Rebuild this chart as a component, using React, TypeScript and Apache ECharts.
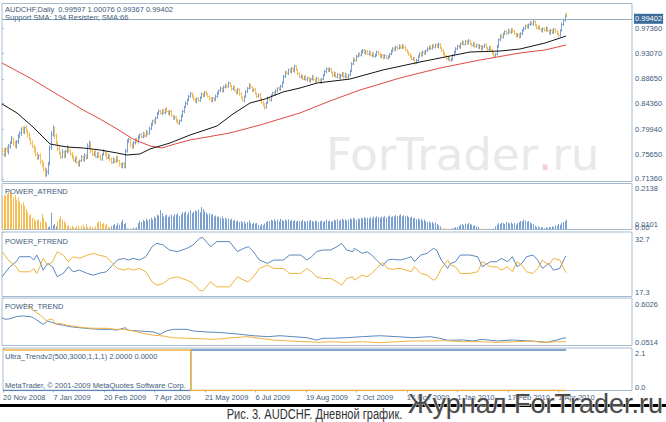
import React from "react";
import * as echarts from "echarts";

// AUDCHF daily, 20 Nov 2008 .. early Apr 2010, one value per bar (358 bars)
// closes in pips (x 1e-4); open of each bar = previous close
const firstOpenPips = 7640;
const closePips = [
  7610, 7560, 7650, 7620, 7700, 7760, 7830, 7760, 7700, 7780,
  7860, 7930, 7990, 7950, 8020, 7960, 7900, 7820, 7760, 7700,
  7640, 7560, 7500, 7540, 7440, 7380, 7300, 7220, 7260, 7400,
  7680, 7900, 8010, 7880, 7760, 7660, 7580, 7520, 7600, 7540,
  7610, 7680, 7620, 7560, 7520, 7460, 7500, 7420, 7380, 7450,
  7520, 7470, 7540, 7500, 7700, 7760, 7620, 7560, 7600, 7520,
  7580, 7520, 7480, 7560, 7620, 7570, 7500, 7540, 7470, 7420,
  7480, 7440, 7500, 7450, 7390, 7350, 7400, 7340, 7620, 7780,
  7820, 7720, 7680, 7760, 7820, 7780, 7850, 7900, 7860, 7920,
  7880, 7950, 7920, 8000, 8080, 8140, 8110, 8190, 8260, 8300,
  8270, 8320, 8280, 8340, 8300, 8260, 8300, 8230, 8180, 8200,
  8140, 8100, 8140, 8220, 8300, 8380, 8440, 8500, 8560, 8610,
  8560, 8510, 8470, 8520, 8490, 8540, 8600, 8570, 8630, 8600,
  8560, 8520, 8480, 8530, 8500, 8560, 8620, 8660, 8700, 8650,
  8720, 8760, 8730, 8790, 8740, 8690, 8720, 8660, 8620, 8680,
  8600, 8540, 8490, 8560, 8640, 8700, 8760, 8720, 8660, 8680,
  8610, 8560, 8590, 8520, 8460, 8420, 8370, 8450, 8530, 8500,
  8580, 8620, 8590, 8660, 8700, 8680, 8740, 8800, 8900, 8980,
  8960, 9020, 8980, 9040, 9000, 9080, 9020, 8950, 8900, 8920,
  8860, 8900, 8850, 8880, 8820, 8860, 8900, 8850, 8820, 8870,
  8840, 8800, 8860, 8930, 8990, 9040, 9000, 9030, 8970, 8920,
  8960, 8900, 8940, 8880, 8920, 8960, 8900, 8940, 8890, 8930,
  9000, 9120, 9210, 9180, 9250, 9300, 9270, 9330, 9360, 9310,
  9340, 9290, 9320, 9270, 9300, 9250, 9280, 9330, 9290, 9240,
  9270, 9230, 9260, 9220, 9250, 9290, 9340, 9390, 9360, 9410,
  9390, 9430, 9400, 9440, 9410, 9360, 9320, 9280, 9250, 9200,
  9220, 9140, 9180, 9250, 9300, 9270, 9330, 9300, 9350, 9380,
  9420, 9390, 9440, 9410, 9450, 9420, 9460, 9400, 9350, 9300,
  9260, 9210, 9240, 9180, 9200, 9270, 9330, 9380, 9430, 9410,
  9470, 9500, 9460, 9510, 9480, 9520, 9470, 9440, 9470, 9420,
  9450, 9400, 9430, 9380, 9420, 9450, 9400, 9370, 9410, 9360,
  9310, 9260, 9290, 9420, 9540, 9610, 9580, 9640, 9680, 9650,
  9700, 9670, 9720, 9680, 9640, 9600, 9630, 9590, 9640, 9700,
  9740, 9780, 9750, 9800, 9840, 9810, 9850, 9790, 9740, 9760,
  9720, 9690, 9730, 9700, 9740, 9690, 9650, 9700, 9660, 9720,
  9680, 9640, 9610, 9700, 9800, 9880, 9959.7, 9940.2,
];
// wick above / below the body, in tens of pips
const hiWick = [
  4, 6, 3, 5, 4, 3, 5, 2, 4, 3, 5, 3, 4, 6, 2, 4, 3, 5, 3, 4,
  3, 5, 4, 2, 4, 3, 5, 4, 6, 3, 4, 6, 5, 3, 4, 2, 4, 3, 5, 3,
  3, 4, 2, 3, 4, 3, 2, 4, 3, 2, 3, 2, 4, 3, 5, 4, 2, 3, 2, 4,
  2, 3, 4, 2, 3, 2, 4, 3, 2, 3, 3, 2, 3, 4, 2, 3, 2, 3, 4, 4,
  3, 2, 4, 3, 2, 3, 4, 2, 3, 3, 2, 3, 2, 4, 3, 2, 3, 2, 3, 4,
  3, 2, 3, 2, 4, 3, 2, 3, 2, 3, 2, 3, 2, 3, 3, 2, 4, 2, 3, 3,
  2, 3, 2, 2, 3, 2, 3, 2, 2, 3, 2, 2, 3, 2, 2, 3, 2, 2, 3, 2,
  3, 2, 2, 3, 2, 2, 3, 2, 2, 3, 2, 3, 2, 2, 3, 2, 3, 2, 2, 2,
  3, 2, 2, 3, 2, 2, 3, 2, 3, 2, 2, 2, 3, 2, 2, 3, 2, 2, 3, 2,
  3, 2, 2, 3, 2, 3, 2, 2, 3, 2, 2, 2, 3, 2, 2, 2, 3, 2, 2, 3,
  2, 3, 2, 2, 3, 2, 2, 3, 2, 2, 3, 2, 2, 2, 3, 2, 2, 3, 2, 2,
  2, 3, 2, 2, 3, 2, 2, 3, 2, 2, 2, 2, 3, 2, 2, 3, 2, 2, 2, 3,
  2, 2, 3, 2, 2, 2, 3, 2, 2, 3, 2, 3, 2, 2, 2, 3, 2, 2, 3, 2,
  2, 2, 3, 2, 2, 3, 2, 2, 2, 3, 2, 2, 2, 3, 2, 2, 3, 2, 2, 2,
  3, 2, 2, 2, 3, 2, 2, 3, 2, 2, 2, 3, 2, 2, 2, 3, 2, 2, 3, 2,
  2, 2, 3, 2, 2, 2, 3, 2, 2, 3, 2, 2, 2, 3, 2, 2, 3, 2, 2, 2,
  3, 2, 2, 2, 3, 2, 2, 2, 3, 2, 2, 2, 3, 2, 2, 2, 3, 2, 2, 2,
  3, 2, 2, 2, 3, 2, 2, 3, 2, 2, 2, 3, 2, 2, 3, 2, 2, 5,
];
const loWick = [
  3, 5, 4, 3, 6, 4, 2, 5, 3, 4, 4, 2, 5, 3, 4, 3, 5, 2, 4, 3,
  5, 3, 4, 3, 5, 4, 3, 6, 4, 5, 3, 4, 3, 5, 2, 4, 3, 4, 3, 5,
  4, 3, 3, 2, 4, 3, 4, 2, 3, 3, 2, 4, 3, 3, 2, 3, 4, 3, 3, 2,
  3, 2, 3, 3, 2, 4, 3, 2, 3, 2, 2, 3, 2, 3, 4, 3, 3, 2, 2, 3,
  2, 4, 3, 2, 3, 2, 3, 3, 2, 2, 3, 2, 3, 2, 2, 3, 2, 3, 2, 2,
  2, 3, 2, 3, 2, 2, 3, 2, 3, 2, 3, 2, 3, 2, 2, 3, 2, 3, 2, 2,
  3, 2, 2, 3, 2, 2, 2, 3, 2, 2, 2, 3, 2, 2, 3, 2, 2, 3, 2, 2,
  2, 2, 3, 2, 2, 3, 2, 2, 3, 2, 3, 2, 2, 3, 2, 2, 2, 3, 2, 2,
  2, 3, 2, 2, 3, 3, 4, 2, 2, 2, 3, 2, 2, 2, 3, 2, 2, 3, 2, 2,
  2, 3, 2, 2, 2, 3, 2, 2, 2, 3, 2, 2, 2, 3, 2, 2, 2, 3, 2, 2,
  3, 2, 2, 2, 2, 3, 2, 2, 2, 3, 2, 2, 3, 2, 2, 2, 3, 2, 2, 2,
  2, 2, 2, 3, 2, 2, 2, 2, 3, 2, 3, 2, 2, 2, 3, 2, 2, 3, 2, 2,
  2, 3, 2, 2, 2, 3, 2, 2, 2, 2, 3, 2, 2, 2, 3, 2, 2, 2, 3, 2,
  2, 4, 2, 2, 2, 3, 2, 2, 2, 2, 2, 3, 2, 2, 2, 2, 3, 2, 2, 3,
  2, 2, 3, 2, 2, 2, 2, 3, 2, 2, 3, 2, 2, 2, 3, 2, 2, 2, 2, 3,
  2, 2, 2, 3, 2, 2, 2, 3, 2, 2, 3, 2, 2, 2, 2, 3, 2, 2, 2, 3,
  2, 2, 3, 2, 2, 2, 2, 3, 2, 2, 2, 3, 2, 2, 2, 2, 3, 2, 2, 2,
  2, 2, 3, 2, 2, 2, 2, 3, 2, 2, 3, 2, 2, 2, 2, 2, 3, 0,
];
const lastQuote = { open: 0.99597, high: 1.00076, low: 0.99367, close: 0.99402 };

// moving averages, [bar, price] vertices
const sma66 = [
  [0, 0.843], [9.5, 0.8275], [19.6, 0.8033], [30.4, 0.774], [41.1, 0.7688],
  [51.3, 0.7671], [62, 0.7637], [72.8, 0.7585], [79.1, 0.755], [87.3, 0.7568],
  [93.7, 0.7654], [106.3, 0.7757], [119, 0.7895], [136.1, 0.8051], [146.2, 0.8258],
  [157, 0.8447], [166.5, 0.8516], [177.8, 0.8637], [188.6, 0.8706], [199.4, 0.8792],
  [220.3, 0.8861], [241.1, 0.9017], [264.6, 0.9155], [280.4, 0.9241], [296.2, 0.9327],
  [315.2, 0.9344], [327.8, 0.9379], [343.7, 0.9482], [357, 0.9603],
];
const sma194 = [
  [0, 0.9137], [17.7, 0.8879], [33.5, 0.862], [51.3, 0.8327], [62, 0.8171],
  [72.8, 0.7999], [82.9, 0.7826], [93.7, 0.7706], [101.3, 0.7671], [109.5, 0.774],
  [119, 0.7809], [144.3, 0.793], [163.3, 0.8068], [188.6, 0.8275], [207.6, 0.8482],
  [226.6, 0.8672], [251.9, 0.8879], [277.2, 0.9051], [302.5, 0.9189], [327.8, 0.931],
  [343.7, 0.9362], [357, 0.9448],
];
const priceTicks = [0.7136, 0.7565, 0.7994, 0.8436, 0.8865, 0.9307, 0.9736];

// POWER_ATREND histogram, thousandths; negative = bearish (orange) bar
const atrendMilli = [
  -150, -160, -158, -165, -175, -184, -170, -150, -160, -140, -150,
  -130, -120, -125, -110, -95, -80, -65, -72, -55, -50, -40, -45,
  -45, -35, -72, -55, -40, -30, 10, 15, 78, 20, 25, 15,
  -40, -50, -62, -45, -38, -30, -15, -20, -10, -18, -12, -8,
  -15, -20, -5, -18, -22, -10, -25, -12, -8, -15, -10, -5, -15, -30,
  -40, -35, -25, -30, -20, -28, -15, -10,
  15, 20, 25, 18, 30, 22, 35, 45, 25, 30, 5, -5, 3, -4, 8, 5, 10,
  30, 40, 35, 45, 38, 50, 42, 48, 55, 45, 60, 55, 70, 65, 90, 75, 60, 65, 70, 58,
  65, 70, 60, 72, 68, 75, 62, 70, 80, 78, 85, 70, 80, 90, 75, 82, 88,
  85, 92, 80, 105, 95, 85, 78, 70, 75, 68, 72, 60, 65, 58, 62, 55, 60, 50,
  55, 48, 52, 45, 50, 40, 45, 38, 42, 35, 40, 32, 38, 28, 35, 42, 30, 25, 32, 28,
  30, 22, 18, 25, 20, 28, 35, 40, 38, 45, 42, 48, 40, 45, 38, 50, 44, 40, 46, 42,
  48, 40, 45, 38, 44, 36, 42, 40, 38, 45, 40, 35, 42, 38, 45, 40, 36, 42, 38, 34,
  38, 42, 35, 40, 45, 38, 42, 36, 40, 45, 42, 48, 40, 45, 50, 44, 48, 42, 46, 52,
  48, 55, 50, 45, 52, 48, 55, 50, 58, 52, 55, 50, 58, 52, 60, 55, 62, 58, 55, 60,
  58, 62, 55, 60, 65, 58, 62, 60, 68, 62, 65, 70, 62, 66, 60, 64, 58, 55, 60, 52,
  55, 48, 52, 45, 50, 42, 46, 40, 35, 38, 30, 35, 28, 32, 25, 20, 15,
  -5, -3, -6, -4, 0, -2, 3, 5, 8, 10,
  12, 18, 22, 25, 20, 28, 24, 30, 26, 22, 18, 20, 15, 12,
  -3, -5, 0, -4, -2, 0, 3, -2, 0, 5,
  15, 22, 28, 25, 32, 30, 26, 35, 30, 28, 32, 25, 30, 22,
  30, 35, 40, 38, 45, 42, 36, 40, 32, 28, 25,
  18, 12, 15, 8, 12, 10, 6, 10, 8, 12,
  10, 15, 12, 20, 18, 25, 22, 30, 35, 40, 45,
];
const atrendScale = [0, 0.2138];
const atrendLevel = [0.0101]; // MT4 level label drawn over the "0.00" one

// POWER_FTREND, [bar, value] vertices
const ftrendBlue = [
  [0, 22.0], [5, 24.4], [9, 25.6], [11, 26.8], [18, 26.8], [20, 26.0], [22, 27.2], [24, 25.6],
  [26, 23.6], [29, 25.2], [32, 24.4], [35, 22.0], [39, 22.9], [42, 24.4], [45, 23.2], [49, 23.6],
  [54, 22.8], [58, 22.4], [62, 22.9], [66, 23.2], [70, 24.8], [73, 26.0], [77, 26.4], [80, 26.0],
  [83, 26.4], [87, 26.0], [91, 26.8], [95, 29.2], [98, 30.0], [102, 29.6], [106, 28.4], [111, 28.0],
  [114, 28.4], [117, 28.8], [121, 29.6], [125, 31.2], [127, 31.4], [132, 29.2], [136, 30.4], [144, 30.4],
  [149, 28.0], [153, 28.8], [156, 29.2], [159, 28.0], [163, 26.0], [168, 25.2], [172, 26.0], [178, 26.0],
  [182, 27.2], [189, 27.2], [193, 26.0], [196, 26.8], [199, 28.0], [203, 28.4], [208, 28.4], [212, 29.2],
  [215, 30.0], [218, 28.4], [222, 28.0], [223, 28.8], [228, 27.6], [231, 28.0], [234, 27.2], [237, 26.0],
  [241, 24.6], [244, 26.0], [247, 26.2], [252, 26.0], [256, 26.4], [259, 26.8], [261, 25.6], [265, 27.2],
  [269, 27.6], [273, 28.8], [275, 28.4], [278, 26.0], [282, 24.0], [284, 25.2], [287, 25.6], [290, 27.2],
  [296, 27.2], [301, 26.8], [304, 24.4], [309, 25.6], [313, 25.6], [316, 26.4], [320, 25.6], [323, 26.8],
  [326, 24.4], [329, 25.2], [332, 26.8], [336, 27.2], [339, 26.0], [342, 24.0], [346, 25.2], [349, 23.6],
  [353, 24.0], [356, 26.4], [357, 27.0],
];
const ftrendOrange = [
  [0, 28.0], [5, 25.6], [9, 24.4], [11, 23.2], [18, 23.2], [20, 24.0], [22, 22.8], [24, 24.4],
  [26, 26.4], [29, 24.8], [32, 25.6], [35, 28.0], [39, 27.1], [42, 25.6], [45, 26.8], [49, 26.4],
  [54, 27.2], [58, 27.6], [62, 27.1], [66, 26.8], [70, 25.2], [73, 24.0], [77, 23.6], [80, 24.0],
  [83, 23.6], [87, 24.0], [91, 23.2], [95, 20.8], [98, 20.0], [102, 20.4], [106, 21.6], [111, 22.0],
  [114, 21.6], [117, 21.2], [121, 20.4], [125, 18.8], [127, 18.6], [132, 20.8], [136, 19.6], [144, 19.6],
  [149, 22.0], [153, 21.2], [156, 20.8], [159, 22.0], [163, 24.0], [168, 24.8], [172, 24.0], [178, 24.0],
  [182, 22.8], [189, 22.8], [193, 24.0], [196, 23.2], [199, 22.0], [203, 21.6], [208, 21.6], [212, 20.8],
  [215, 20.0], [218, 21.6], [222, 22.0], [223, 21.2], [228, 22.4], [231, 22.0], [234, 22.8], [237, 24.0],
  [241, 25.4], [244, 24.0], [247, 23.8], [252, 24.0], [256, 23.6], [259, 23.2], [261, 24.4], [265, 22.8],
  [269, 22.4], [273, 21.2], [275, 21.6], [278, 24.0], [282, 26.0], [284, 24.8], [287, 24.4], [290, 22.8],
  [296, 22.8], [301, 23.2], [304, 25.6], [309, 24.4], [313, 24.4], [316, 23.6], [320, 24.4], [323, 23.2],
  [326, 25.6], [329, 24.8], [332, 23.2], [336, 22.8], [339, 24.0], [342, 26.0], [346, 24.8], [349, 26.4],
  [353, 26.0], [356, 23.6], [357, 23.0],
];
const ftrendScale = [17.3, 32.7];

// POWER_TREND
const trendBlue = [
  [0, 0.374], [2, 0.355], [5, 0.362], [9, 0.386], [13, 0.394], [18, 0.386], [20, 0.374], [22, 0.347],
  [26, 0.297], [29, 0.336], [32, 0.316], [35, 0.297], [39, 0.286], [43, 0.27], [49, 0.258], [56, 0.246],
  [62, 0.239], [68, 0.239], [73, 0.231], [78, 0.258], [80, 0.228], [87, 0.22], [96, 0.208], [100, 0.181],
  [104, 0.22], [108, 0.239], [117, 0.239], [121, 0.22], [130, 0.208], [138, 0.202], [151, 0.181], [159, 0.165],
  [168, 0.154], [176, 0.165], [184, 0.154], [193, 0.142], [199, 0.115], [203, 0.135], [208, 0.135], [218, 0.142],
  [228, 0.154], [239, 0.165], [250, 0.154], [260, 0.142], [271, 0.154], [277, 0.135], [282, 0.112], [292, 0.115],
  [298, 0.104], [304, 0.123], [313, 0.104], [323, 0.115], [334, 0.104], [341, 0.095], [345, 0.088], [351, 0.115],
  [355, 0.135], [357, 0.142],
];
const trendOrange = [
  [14, 0.54], [16, 0.51], [19, 0.471], [22, 0.432], [25, 0.394], [28, 0.336], [30, 0.355], [32, 0.355],
  [34, 0.297], [37, 0.309], [41, 0.286], [47, 0.27], [54, 0.254], [60, 0.251], [66, 0.251], [72, 0.239],
  [77, 0.239], [83, 0.22], [89, 0.193], [96, 0.17], [102, 0.162], [108, 0.142], [117, 0.135], [125, 0.13],
  [134, 0.123], [146, 0.142], [155, 0.154], [163, 0.135], [172, 0.115], [182, 0.104], [193, 0.095], [201, 0.088],
  [208, 0.095], [218, 0.088], [228, 0.095], [239, 0.084], [250, 0.095], [260, 0.104], [271, 0.104], [282, 0.107],
  [292, 0.095], [303, 0.095], [313, 0.088], [326, 0.095], [334, 0.104], [342, 0.088], [351, 0.095], [357, 0.095],
];
const trendScale = [0.0514, 0.6026];

// Ultra_Trendv2
const ultraBlue = [[0, 0], [119, 0], [119, 2], [357, 2]];
const ultraOrange = [[0, 2], [119, 2], [119, 0], [357, 0]];
const ultraScale = [0, 2.1];

const dateTicks = [0, 32, 64, 96, 128, 160, 192, 224, 256, 288, 320, 352];
const dateLabels = [
  "20 Nov 2008", "7 Jan 2009", "20 Feb 2009", "7 Apr 2009", "21 May 2009", "6 Jul 2009",
  "19 Aug 2009", "2 Oct 2009", "17 Nov 2009", "1 Jan 2010", "17 Feb 2010", "1 Apr 2010",
];

const UP = "#7aa0d2";
const DOWN = "#f4bd55";
const LBLUE = "#5b86bd";
const LORANGE = "#f0b23c";
const BORDER = "#a6bbd0";
const TEXT = "#3d5b7b";
const FONT = "Liberation Sans";

const panes = [
  { top: 3.5, height: 178 },
  { top: 183.5, height: 46 },
  { top: 232, height: 64.5 },
  { top: 298, height: 47.5 },
  { top: 348, height: 42.5 },
];

function renderBar(_p: any, api: any) {
  const i = api.value(0);
  const open = api.value(1);
  const close = api.value(2);
  const pO = api.coord([i, open]);
  const pC = api.coord([i, close]);
  const pL = api.coord([i, api.value(3)]);
  const pH = api.coord([i, api.value(4)]);
  const x = Math.round(pO[0]) + 0.5;
  const style = { stroke: close >= open ? UP : DOWN, lineWidth: 1 };
  return {
    type: "group",
    children: [
      { type: "line", shape: { x1: x, y1: pL[1], x2: x, y2: pH[1] }, style },
      { type: "line", shape: { x1: x - 1, y1: pO[1], x2: x, y2: pO[1] }, style },
      { type: "line", shape: { x1: x, y1: pC[1], x2: x + 1, y2: pC[1] }, style },
    ],
  };
}

function renderHist(_p: any, api: any) {
  const i = api.value(0);
  const top = api.coord([i, api.value(1)]);
  const base = api.coord([i, 0]);
  return {
    type: "rect",
    shape: { x: Math.round(top[0]), y: top[1], width: 1, height: base[1] - top[1] },
    style: { fill: api.value(2) < 0 ? DOWN : UP },
  };
}

// MT4 draws a sub-window's max label just under its top edge and the min just above its bottom
function subAxis(
  k: number,
  range: number[],
  labels: number[],
  fmt: (v: number) => string,
  padTop: number,
  padBot: number,
  showTicks = true
) {
  const max = range[range.length - 1];
  const tok = { fontSize: 7.5, fontFamily: FONT, color: TEXT };
  return {
    type: "value",
    gridIndex: k,
    position: "right",
    min: range[0],
    max,
    splitLine: { show: false },
    axisLine: { show: false },
    axisTick: { show: showTicks, customValues: labels, length: 2, lineStyle: { color: BORDER } },
    axisLabel: {
      customValues: labels,
      showMinLabel: true,
      showMaxLabel: true,
      margin: 3,
      formatter: (v: number) => (v >= max ? `{t|${fmt(v)}}` : `{b|${fmt(v)}}`),
      rich: {
        t: { ...tok, padding: [padTop, 0, 0, 0] },
        b: { ...tok, padding: [0, 0, padBot, 0] },
      },
    },
  };
}

function lineSeries(k: number, data: number[][], color: string, width = 1) {
  return {
    type: "line",
    xAxisIndex: k,
    yAxisIndex: k,
    data,
    symbol: "none",
    showSymbol: false,
    silent: true,
    lineStyle: { color, width },
  };
}

function label(x: number, y: number, text: string) {
  return {
    type: "text",
    x,
    y,
    z: 20,
    style: { text, fill: TEXT, font: `7.5px "${FONT}"`, verticalAlign: "middle" },
  };
}

function buildOption(): any {
  const bars = closePips.map((c, i) => {
    const o = i === 0 ? firstOpenPips : closePips[i - 1];
    const hi = Math.max(o, c) + hiWick[i] * 10;
    const lo = Math.min(o, c) - loWick[i] * 10;
    return [i, o / 1e4, c / 1e4, lo / 1e4, hi / 1e4];
  });
  const hist = atrendMilli.map((v, i) => [i, Math.abs(v) / 1000, v]);
  const fmt4 = (v: number) => (v === 0 ? "0.00" : v.toFixed(4));

  return {
    animation: false,
    backgroundColor: "#ffffff",
    textStyle: { fontFamily: FONT },
    grid: panes.map((p) => ({
      left: 2,
      right: 34,
      top: p.top,
      height: p.height,
      show: true,
      borderColor: BORDER,
      borderWidth: 1,
      backgroundColor: "transparent",
    })),
    xAxis: panes.map((_, k) => ({
      type: "value",
      gridIndex: k,
      min: 0,
      max: 398.7,
      show: k === panes.length - 1,
      splitLine: { show: false },
      axisLine: { show: false },
      axisTick: { show: true, customValues: dateTicks, length: 2, lineStyle: { color: BORDER } },
      axisLabel: {
        customValues: dateTicks,
        formatter: (v: number) => dateLabels[dateTicks.indexOf(v)] ?? "",
        align: "left",
        margin: 3,
        fontSize: 7.5,
        fontFamily: FONT,
        color: TEXT,
      },
    })),
    yAxis: [
      {
        type: "value",
        gridIndex: 0,
        position: "right",
        min: 0.70928,
        max: 1.01639,
        splitLine: { show: false },
        axisLine: { show: false },
        axisTick: { show: true, customValues: priceTicks, length: 2, lineStyle: { color: BORDER } },
        axisLabel: {
          customValues: priceTicks,
          formatter: (v: number) => v.toFixed(5),
          margin: 3,
          fontSize: 7.5,
          fontFamily: FONT,
          color: TEXT,
        },
      },
      subAxis(1, atrendScale, atrendScale, fmt4, 10, 5),
      subAxis(2, ftrendScale, ftrendScale, (v) => v.toFixed(1), 14, 9),
      subAxis(3, trendScale, trendScale, (v) => v.toFixed(4), 13, 7),
      subAxis(4, ultraScale, ultraScale, (v) => v.toFixed(1), 11, 7),
      subAxis(1, atrendScale, atrendLevel, fmt4, 10, 5, false),
    ],
    series: [
      {
        type: "custom",
        xAxisIndex: 0,
        yAxisIndex: 0,
        data: bars,
        renderItem: renderBar,
        clip: true,
        silent: true,
        z: 3,
      },
      { ...lineSeries(0, sma194, "#e04a45", 1), z: 4 },
      {
        ...lineSeries(0, sma66, "#151515", 1),
        z: 5,
        markLine: {
          silent: true,
          symbol: ["none", "none"],
          data: [{ yAxis: lastQuote.close }],
          lineStyle: { color: "#94abc3", width: 1, type: "solid" },
          label: {
            position: "end",
            distance: 2,
            formatter: () => lastQuote.close.toFixed(5),
            backgroundColor: "#3c6a99",
            color: "#ffffff",
            fontSize: 7.5,
            fontFamily: FONT,
            padding: [1.5, 1, 0.5, 1],
          },
        },
      },
      {
        type: "custom",
        xAxisIndex: 1,
        yAxisIndex: 1,
        data: hist,
        renderItem: renderHist,
        clip: true,
        silent: true,
      },
      lineSeries(2, ftrendBlue, LBLUE),
      lineSeries(2, ftrendOrange, LORANGE),
      lineSeries(3, trendBlue, LBLUE),
      lineSeries(3, trendOrange, LORANGE),
      lineSeries(4, ultraBlue, LBLUE, 1.4),
      lineSeries(4, ultraOrange, LORANGE, 1.4),
    ],
    graphic: [
      {
        type: "text",
        x: 326,
        y: 154,
        z: 0,
        style: {
          text: "{a|ForTrader}{b|.}{a|ru}",
          verticalAlign: "middle",
          rich: {
            a: { fill: "#e9e9e9", fontSize: 45, fontFamily: "DejaVu Sans" },
            b: { fill: "#f5d0d0", fontSize: 45, fontFamily: "DejaVu Sans" },
          },
        },
      },
      label(5, 9, `AUDCHF,Daily  ${lastQuote.open} ${lastQuote.high} ${lastQuote.low} ${lastQuote.close}`),
      label(5, 17, "Support SMA: 194 Resisten; SMA:66"),
      label(5, 191, "POWER_ATREND"),
      label(5, 241.5, "POWER_FTREND"),
      label(5, 306, "POWER_TREND"),
      label(5, 356, "Ultra_Trendv2(500,3000,1,1,1) 2.0000 0.0000"),
      label(5, 385.5, "MetaTrader, © 2001-2009 MetaQuotes Software Corp."),
      { type: "rect", z: 50, shape: { x: 0, y: 404, width: 666, height: 3 }, style: { fill: "#000000" } },
      {
        type: "text",
        x: 314.5,
        y: 414,
        scaleX: 0.74,
        z: 60,
        style: {
          text: "Рис. 3. AUDCHF. Дневной график.",
          font: `15px "${FONT}"`,
          fill: "#333333",
          align: "center",
          verticalAlign: "middle",
        },
      },
      {
        type: "text",
        x: 663,
        y: 403.5,
        z: 70,
        style: {
          text: "Журнал ForTrader.ru",
          font: `27px "${FONT}"`,
          fill: "#4b4b4b",
          stroke: "#f2f2f2",
          lineWidth: 1,
          align: "right",
          verticalAlign: "middle",
        },
      },
    ],
  };
}

export default function App() {
  const ref = React.useRef<HTMLDivElement>(null);

  React.useEffect(() => {
    if (!ref.current) return;
    const chart = echarts.init(ref.current, null, { renderer: "svg" });
    chart.setOption(buildOption());
    return () => {
      chart.dispose();
    };
  }, []);

  return (
    <div
      ref={ref}
      style={{ position: "fixed", left: 0, top: 0, width: 666, height: 422, background: "#fff" }}
    />
  );
}
